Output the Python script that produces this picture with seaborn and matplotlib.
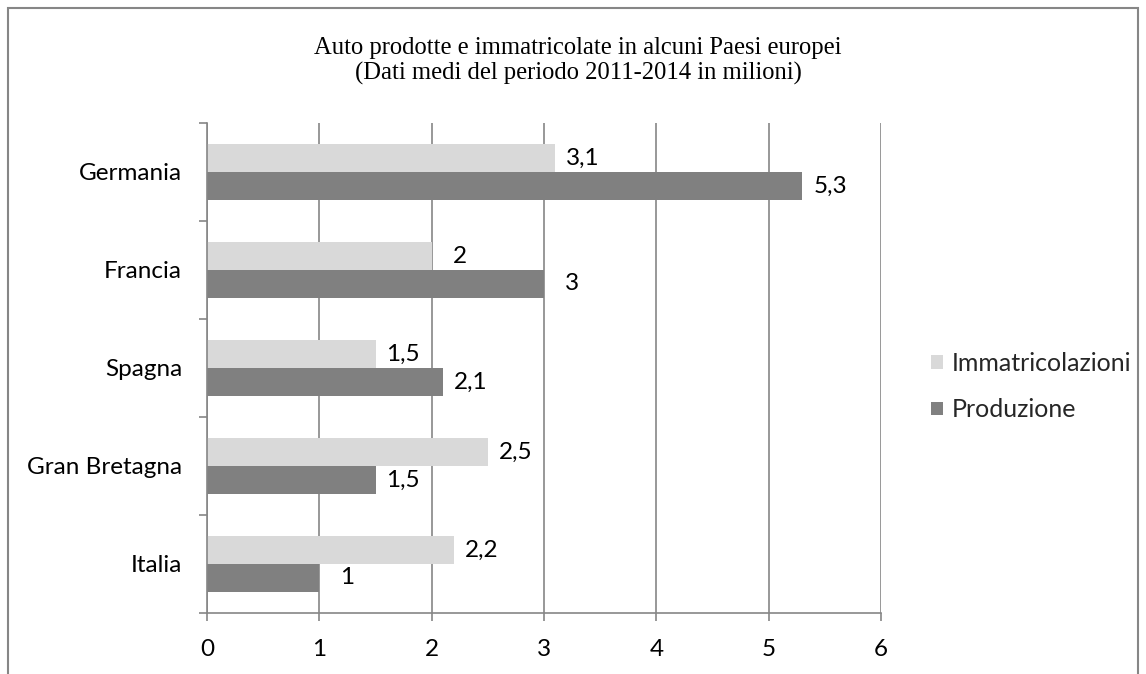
import matplotlib
matplotlib.use("Agg")
import matplotlib.pyplot as plt
import seaborn as sns
import pandas as pd
from matplotlib.patches import Rectangle, Patch
from matplotlib.ticker import FixedLocator

categories = ["Germania", "Francia", "Spagna", "Gran Bretagna", "Italia"]
immatricolazioni = [3.1, 2.0, 1.5, 2.5, 2.2]
produzione = [5.3, 3.0, 2.1, 1.5, 1.0]
series_names = ["Immatricolazioni", "Produzione"]
labels_imm = ["3,1", "2", "1,5", "2,5", "2,2"]
labels_prod = ["5,3", "3", "2,1", "1,5", "1"]
x_ticks = [0, 1, 2, 3, 4, 5, 6]

df = pd.DataFrame({
    "Paese": categories * 2,
    "Valore": immatricolazioni + produzione,
    "Serie": [series_names[0]] * len(categories) + [series_names[1]] * len(categories),
})

sns.set_theme(style="white")
plt.rcParams["font.family"] = ["Lato", "DejaVu Sans"]

GRID = "#868686"
LIGHT = "#D9D9D9"
DARK = "#808080"
FS = 17.5

fig = plt.figure(figsize=(11.46, 6.74), dpi=100)
ax = fig.add_axes([207 / 1146, 61 / 674, (881 - 207) / 1146, (613 - 123) / 674])

sns.barplot(data=df, x="Valore", y="Paese", hue="Serie", order=categories,
            hue_order=series_names, palette=[LIGHT, DARK], orient="h",
            width=0.57, gap=0, ax=ax, legend=False, saturation=1,
            edgecolor="none", linewidth=0)

ax.set_xlim(0, 6)
ax.set_ylim(4.5, -0.5)
ax.set_xlabel("")
ax.set_ylabel("")
ax.set_xticks(x_ticks)
ax.set_xticklabels([str(t) for t in x_ticks])
ax.xaxis.grid(True, color=GRID, linewidth=1.2)
ax.set_axisbelow(True)

for s in ["top", "right"]:
    ax.spines[s].set_visible(False)
for s in ["left", "bottom"]:
    ax.spines[s].set_color(GRID)
    ax.spines[s].set_linewidth(1.2)

ax.yaxis.set_minor_locator(FixedLocator([i - 0.5 for i in range(len(categories) + 1)]))
ax.tick_params(axis="y", which="major", length=0, pad=18, labelsize=FS, labelcolor="black")
ax.tick_params(axis="y", which="minor", left=True, length=6, width=1.2, color=GRID)
ax.tick_params(axis="x", which="major", bottom=True, length=6, width=1.2, color=GRID,
               pad=13, labelsize=FS, labelcolor="black")

# data labels
for cont, labs in zip(ax.containers, [labels_imm, labels_prod]):
    for bar, lab in zip(cont, labs):
        xe = bar.get_x() + bar.get_width()
        yc = bar.get_y() + bar.get_height() / 2
        ax.annotate(lab, (xe, yc), xytext=(20, 0), textcoords="offset points",
                    ha="center", va="center", fontsize=FS, color="black",
                    annotation_clip=False)

# legend
handles = [Patch(facecolor=LIGHT, edgecolor="none"), Patch(facecolor=DARK, edgecolor="none")]
fig.legend(handles, series_names, loc="center left", bbox_to_anchor=(931 / 1146, 1 - 386.5 / 674),
           frameon=False, fontsize=18, handlelength=0.48, handleheight=0.48,
           handletextpad=0.36, labelspacing=0.95, borderpad=0, borderaxespad=0)

# title
fig.text(578 / 1146, 1 - 61 / 674,
         "Auto prodotte e immatricolate in alcuni Paesi europei\n(Dati medi del periodo 2011-2014 in milioni)",
         ha="center", va="center", fontsize=17.7, family=["Liberation Serif", "DejaVu Serif"],
         linespacing=1.17, color="black")

# chart area border
fig.patches.append(Rectangle((8 / 1146, -0.05), (1138 - 8) / 1146, (674 - 8) / 674 + 0.05,
                             transform=fig.transFigure, fill=False, edgecolor=GRID,
                             linewidth=1.5, clip_on=False))

fig.savefig("out.png", dpi=100)
